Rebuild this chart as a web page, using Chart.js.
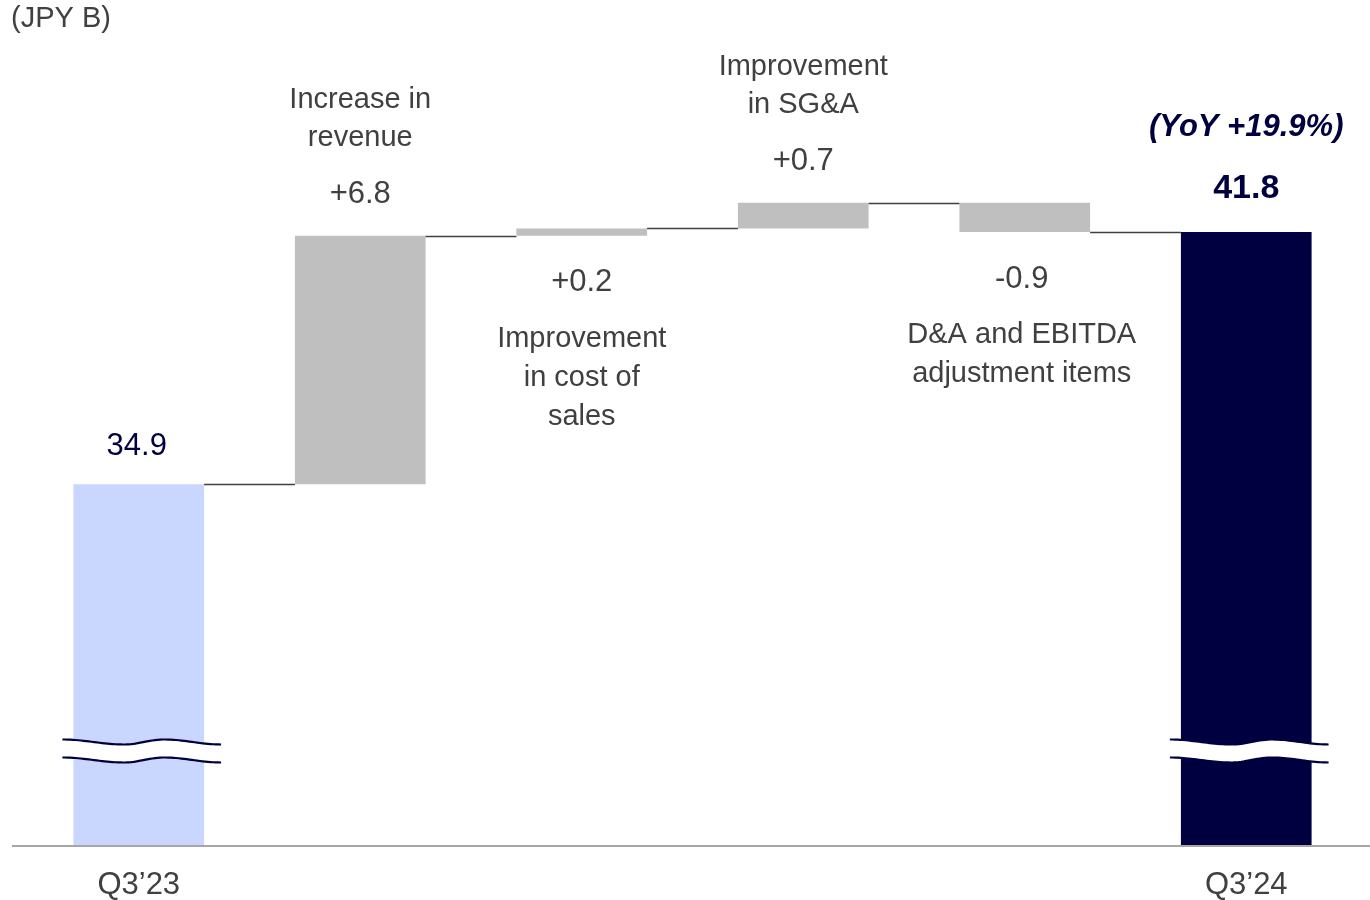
<!DOCTYPE html>
<html>
<head>
<meta charset="utf-8">
<script src="https://cdn.jsdelivr.net/npm/chart.js@4.4.1/dist/chart.umd.min.js"></script>
<style>
  html, body { margin: 0; padding: 0; background: #fff; }
  #wrap { width: 1370px; height: 900px; position: relative; }
</style>
</head>
<body>
<div id="wrap"><canvas id="myChart" width="1370" height="900"></canvas></div>
<script>
// values (JPY B)
const categories = ["Q3\u201923", "", "", "", "", "Q3\u201924"];
const startValues = [25, 34.9, 41.7, 41.9, 41.8, 25];
const endValues = [34.9, 41.7, 41.9, 42.6, 42.6, 41.8];
const levels = [34.9, 41.7, 41.9, 42.6, 41.8];   // running total after each bar
const valueLabels = ["34.9", "+6.8", "+0.2", "+0.7", "-0.9", "41.8"];
const descriptions = [
  [],
  ["Increase in", "revenue"],
  ["Improvement", "in cost of", "sales"],
  ["Improvement", "in SG&A"],
  ["D&A and EBITDA", "adjustment items"],
  []
];
const yoyLabel = "(YoY +19.9%)";
const unitLabel = "(JPY B)";

const FONT = '"Liberation Sans", Arial, sans-serif';
const GRAY_TEXT = "#404040";
const NAVY = "#000040";
const labelSide = ["above", "above", "below", "above", "below", "above"];
const labelShift = [-2, 0, 0, 0, -3, 0];

const barColors = ["#c9d7fe", "#bfbfbf", "#bfbfbf", "#bfbfbf", "#bfbfbf", NAVY];

const data = startValues.map((s, i) => [s, endValues[i]]);

function wave(t) {
  // keypoints of the break line
  const pts = [[0, 0], [0.39, 5], [0.64, 0], [1, 5]];
  for (let k = 0; k < pts.length - 1; k++) {
    const a = pts[k], b = pts[k + 1];
    if (t <= b[0]) {
      const u = (t - a[0]) / (b[0] - a[0]);
      const f = (1 - Math.cos(u * Math.PI)) / 2;
      return a[1] + (b[1] - a[1]) * f - 2.5;
    }
  }
  return 2.5;
}

const waterfallPlugin = {
  id: "waterfall",
  afterDatasetsDraw(chart) {
    const ctx = chart.ctx;
    const meta = chart.getDatasetMeta(0);
    const y = chart.scales.y;
    const area = chart.chartArea;

    ctx.save();

    // connectors
    ctx.strokeStyle = "#404040";
    ctx.lineWidth = 1.5;
    for (let i = 0; i < levels.length; i++) {
      const a = meta.data[i], b = meta.data[i + 1];
      const yy = Math.round(y.getPixelForValue(levels[i])) + 0.5;
      ctx.beginPath();
      ctx.moveTo(a.x + a.width / 2, yy);
      ctx.lineTo(b.x - b.width / 2, yy);
      ctx.stroke();
    }

    // break marks on the first and last bars
    [0, 5].forEach(i => {
      const bar = meta.data[i];
      const x0 = bar.x - bar.width / 2 - 11;
      const x1 = bar.x + bar.width / 2 + 17;
      const yc = y.getPixelForValue(27.6);
      const n = 60;
      ctx.beginPath();
      for (let k = 0; k <= n; k++) {
        const t = k / n;
        const px = x0 + (x1 - x0) * t;
        const py = yc - 9 + wave(t);
        k === 0 ? ctx.moveTo(px, py) : ctx.lineTo(px, py);
      }
      for (let k = n; k >= 0; k--) {
        const t = k / n;
        ctx.lineTo(x0 + (x1 - x0) * t, yc + 9 + wave(t));
      }
      ctx.closePath();
      ctx.fillStyle = "#fff";
      ctx.fill();
      ctx.strokeStyle = NAVY;
      ctx.lineWidth = 2.2;
      [-9, 9].forEach(off => {
        ctx.beginPath();
        for (let k = 0; k <= n; k++) {
          const t = k / n;
          const px = x0 + (x1 - x0) * t;
          const py = yc + off + wave(t);
          k === 0 ? ctx.moveTo(px, py) : ctx.lineTo(px, py);
        }
        ctx.stroke();
      });
    });

    // baseline
    ctx.strokeStyle = "#a6a6a6";
    ctx.lineWidth = 2;
    ctx.beginPath();
    ctx.moveTo(12, area.bottom);
    ctx.lineTo(chart.width, area.bottom);
    ctx.stroke();

    // labels
    ctx.textAlign = "center";
    ctx.textBaseline = "middle";
    meta.data.forEach((bar, i) => {
      const top = Math.min(bar.y, bar.base);
      const bottom = Math.max(bar.y, bar.base);
      const lines = descriptions[i];
      const cx = bar.x + labelShift[i];
      if (i === 0) {
        ctx.fillStyle = NAVY;
        ctx.font = "31px " + FONT;
        ctx.fillText(valueLabels[i], cx, top - 38);
        return;
      }
      if (i === 5) {
        ctx.fillStyle = NAVY;
        ctx.font = "bold 34px " + FONT;
        ctx.fillText(valueLabels[i], cx, top - 43);
        ctx.font = "italic bold 31px " + FONT;
        ctx.fillText(yoyLabel, cx, top - 105);
        return;
      }
      ctx.fillStyle = GRAY_TEXT;
      if (labelSide[i] === "above") {
        const vy = top - 41;
        ctx.font = "31px " + FONT;
        ctx.fillText(valueLabels[i], cx, vy);
        ctx.font = "29px " + FONT;
        lines.forEach((ln, k) => {
          ctx.fillText(ln, cx, vy - 57 - (lines.length - 1 - k) * 38);
        });
      } else {
        const vy = bottom + 47;
        ctx.font = "31px " + FONT;
        ctx.fillText(valueLabels[i], cx, vy);
        ctx.font = "29px " + FONT;
        lines.forEach((ln, k) => {
          ctx.fillText(ln, cx, vy + 56 + k * 39);
        });
      }
    });

    // unit
    ctx.textAlign = "left";
    ctx.fillStyle = GRAY_TEXT;
    ctx.font = "29px " + FONT;
    ctx.fillText(unitLabel, 11, 19);

    ctx.restore();
  }
};

new Chart(document.getElementById("myChart"), {
  type: "bar",
  data: {
    labels: categories,
    datasets: [{
      data: data,
      backgroundColor: barColors,
      borderWidth: 0,
      barPercentage: 0.59,
      categoryPercentage: 1
    }]
  },
  options: {
    responsive: false,
    animation: false,
    layout: { padding: { top: 42, left: 28, right: 13, bottom: -25 } },
    plugins: {
      legend: { display: false },
      tooltip: { enabled: false }
    },
    scales: {
      x: {
        grid: { display: false, drawTicks: false },
        border: { display: false },
        ticks: {
          color: GRAY_TEXT,
          font: { family: FONT, size: 31, lineHeight: 1 },
          padding: 24,
          maxRotation: 0,
          autoSkip: false
        }
      },
      y: {
        display: false,
        min: 25,
        max: 47
      }
    }
  },
  plugins: [waterfallPlugin]
});
</script>
</body>
</html>
